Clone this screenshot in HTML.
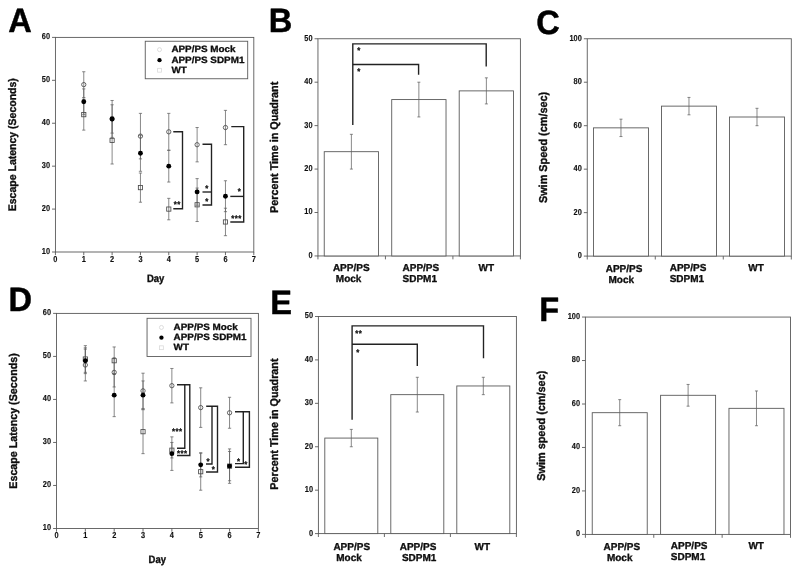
<!DOCTYPE html>
<html lang="en"><head><meta charset="utf-8"><title>Figure</title>
<style>html,body{margin:0;padding:0;background:#fff;overflow:hidden}svg{display:block}svg text{text-rendering:geometricPrecision;font-family:"Liberation Sans",Arial,Helvetica,sans-serif;font-weight:bold;fill:#0c0c0c;stroke:#0c0c0c;stroke-linejoin:round}svg{stroke-width:0.32}</style>
</head><body>
<svg width="800" height="574" viewBox="0 0 800 574">
<defs><filter id="soft" x="0" y="0" width="800" height="574" filterUnits="userSpaceOnUse"><feGaussianBlur stdDeviation="0.34"/></filter></defs>
<rect width="800" height="574" fill="#fff"/>
<g filter="url(#soft)">
<rect x="55.43" y="37.40" width="198.37" height="214.60" fill="none" stroke="#5a5a5a" stroke-width="0.9"/>
<line x1="52.03" y1="252.00" x2="55.43" y2="252.00" stroke="#5a5a5a" stroke-width="0.9"/>
<text transform="translate(50.03 253.90) scale(1 1.17)" font-size="7.4" text-anchor="end" stroke-width="0.1">10</text>
<line x1="52.03" y1="209.08" x2="55.43" y2="209.08" stroke="#5a5a5a" stroke-width="0.9"/>
<text transform="translate(50.03 210.98) scale(1 1.17)" font-size="7.4" text-anchor="end" stroke-width="0.1">20</text>
<line x1="52.03" y1="166.16" x2="55.43" y2="166.16" stroke="#5a5a5a" stroke-width="0.9"/>
<text transform="translate(50.03 168.06) scale(1 1.17)" font-size="7.4" text-anchor="end" stroke-width="0.1">30</text>
<line x1="52.03" y1="123.24" x2="55.43" y2="123.24" stroke="#5a5a5a" stroke-width="0.9"/>
<text transform="translate(50.03 125.14) scale(1 1.17)" font-size="7.4" text-anchor="end" stroke-width="0.1">40</text>
<line x1="52.03" y1="80.32" x2="55.43" y2="80.32" stroke="#5a5a5a" stroke-width="0.9"/>
<text transform="translate(50.03 82.22) scale(1 1.17)" font-size="7.4" text-anchor="end" stroke-width="0.1">50</text>
<line x1="52.03" y1="37.40" x2="55.43" y2="37.40" stroke="#5a5a5a" stroke-width="0.9"/>
<text transform="translate(50.03 39.30) scale(1 1.17)" font-size="7.4" text-anchor="end" stroke-width="0.1">60</text>
<line x1="55.43" y1="252.00" x2="55.43" y2="255.20" stroke="#5a5a5a" stroke-width="0.9"/>
<text transform="translate(55.43 261.70) scale(1 1.17)" font-size="7.4" text-anchor="middle" stroke-width="0.1">0</text>
<line x1="83.77" y1="252.00" x2="83.77" y2="255.20" stroke="#5a5a5a" stroke-width="0.9"/>
<text transform="translate(83.77 261.70) scale(1 1.17)" font-size="7.4" text-anchor="middle" stroke-width="0.1">1</text>
<line x1="112.11" y1="252.00" x2="112.11" y2="255.20" stroke="#5a5a5a" stroke-width="0.9"/>
<text transform="translate(112.11 261.70) scale(1 1.17)" font-size="7.4" text-anchor="middle" stroke-width="0.1">2</text>
<line x1="140.45" y1="252.00" x2="140.45" y2="255.20" stroke="#5a5a5a" stroke-width="0.9"/>
<text transform="translate(140.45 261.70) scale(1 1.17)" font-size="7.4" text-anchor="middle" stroke-width="0.1">3</text>
<line x1="168.78" y1="252.00" x2="168.78" y2="255.20" stroke="#5a5a5a" stroke-width="0.9"/>
<text transform="translate(168.78 261.70) scale(1 1.17)" font-size="7.4" text-anchor="middle" stroke-width="0.1">4</text>
<line x1="197.12" y1="252.00" x2="197.12" y2="255.20" stroke="#5a5a5a" stroke-width="0.9"/>
<text transform="translate(197.12 261.70) scale(1 1.17)" font-size="7.4" text-anchor="middle" stroke-width="0.1">5</text>
<line x1="225.46" y1="252.00" x2="225.46" y2="255.20" stroke="#5a5a5a" stroke-width="0.9"/>
<text transform="translate(225.46 261.70) scale(1 1.17)" font-size="7.4" text-anchor="middle" stroke-width="0.1">6</text>
<line x1="253.80" y1="252.00" x2="253.80" y2="255.20" stroke="#5a5a5a" stroke-width="0.9"/>
<text transform="translate(253.80 261.70) scale(1 1.17)" font-size="7.4" text-anchor="middle" stroke-width="0.1">7</text>
<text transform="translate(155.60 282.00) scale(1 1.13)" font-size="9.5" text-anchor="middle">Day</text>
<text transform="translate(16.30 144.70) rotate(-90) scale(1 1.05)" font-size="10.5" text-anchor="middle">Escape Latency (Seconds)</text>
<text transform="translate(8.20 31.60) scale(1 1.035)" font-size="32.6" text-anchor="start" style="fill:#000;stroke:#000;stroke-width:0.45px">A</text>
<rect x="145.25" y="41.25" width="102.45" height="37.50" fill="#fff" stroke="#5a5a5a" stroke-width="0.9"/>
<circle cx="159.50" cy="49.65" r="2.0" fill="#fff" stroke="#d4d4d4" stroke-width="0.8"/>
<circle cx="159.50" cy="60.15" r="2.15" fill="#000"/>
<rect x="157.60" y="68.35" width="3.8" height="3.8" fill="#fff" stroke="#dadada" stroke-width="0.8"/>
<text transform="translate(171.40 52.10) scale(1 0.93)" font-size="9.9" text-anchor="start">APP/PS Mock</text>
<text transform="translate(171.40 62.60) scale(1 0.93)" font-size="9.9" text-anchor="start">APP/PS SDPM1</text>
<text transform="translate(171.40 72.70) scale(1 0.93)" font-size="9.9" text-anchor="start">WT</text>
<line x1="83.77" y1="71.74" x2="83.77" y2="97.49" stroke="#606060" stroke-width="0.75"/>
<line x1="82.17" y1="71.74" x2="85.37" y2="71.74" stroke="#606060" stroke-width="0.75"/>
<line x1="82.17" y1="97.49" x2="85.37" y2="97.49" stroke="#606060" stroke-width="0.75"/>
<line x1="112.11" y1="100.49" x2="112.11" y2="137.40" stroke="#606060" stroke-width="0.75"/>
<line x1="110.51" y1="100.49" x2="113.71" y2="100.49" stroke="#606060" stroke-width="0.75"/>
<line x1="110.51" y1="137.40" x2="113.71" y2="137.40" stroke="#606060" stroke-width="0.75"/>
<line x1="140.45" y1="113.37" x2="140.45" y2="158.86" stroke="#606060" stroke-width="0.75"/>
<line x1="138.85" y1="113.37" x2="142.05" y2="113.37" stroke="#606060" stroke-width="0.75"/>
<line x1="138.85" y1="158.86" x2="142.05" y2="158.86" stroke="#606060" stroke-width="0.75"/>
<line x1="168.78" y1="113.37" x2="168.78" y2="150.28" stroke="#606060" stroke-width="0.75"/>
<line x1="167.18" y1="113.37" x2="170.38" y2="113.37" stroke="#606060" stroke-width="0.75"/>
<line x1="167.18" y1="150.28" x2="170.38" y2="150.28" stroke="#606060" stroke-width="0.75"/>
<line x1="197.12" y1="127.53" x2="197.12" y2="161.87" stroke="#606060" stroke-width="0.75"/>
<line x1="195.52" y1="127.53" x2="198.72" y2="127.53" stroke="#606060" stroke-width="0.75"/>
<line x1="195.52" y1="161.87" x2="198.72" y2="161.87" stroke="#606060" stroke-width="0.75"/>
<line x1="225.46" y1="110.36" x2="225.46" y2="144.70" stroke="#606060" stroke-width="0.75"/>
<line x1="223.86" y1="110.36" x2="227.06" y2="110.36" stroke="#606060" stroke-width="0.75"/>
<line x1="223.86" y1="144.70" x2="227.06" y2="144.70" stroke="#606060" stroke-width="0.75"/>
<line x1="83.77" y1="88.90" x2="83.77" y2="114.66" stroke="#606060" stroke-width="0.75"/>
<line x1="82.17" y1="88.90" x2="85.37" y2="88.90" stroke="#606060" stroke-width="0.75"/>
<line x1="82.17" y1="114.66" x2="85.37" y2="114.66" stroke="#606060" stroke-width="0.75"/>
<line x1="112.11" y1="104.78" x2="112.11" y2="133.11" stroke="#606060" stroke-width="0.75"/>
<line x1="110.51" y1="104.78" x2="113.71" y2="104.78" stroke="#606060" stroke-width="0.75"/>
<line x1="110.51" y1="133.11" x2="113.71" y2="133.11" stroke="#606060" stroke-width="0.75"/>
<line x1="140.45" y1="135.26" x2="140.45" y2="171.31" stroke="#606060" stroke-width="0.75"/>
<line x1="138.85" y1="135.26" x2="142.05" y2="135.26" stroke="#606060" stroke-width="0.75"/>
<line x1="138.85" y1="171.31" x2="142.05" y2="171.31" stroke="#606060" stroke-width="0.75"/>
<line x1="168.78" y1="150.28" x2="168.78" y2="182.04" stroke="#606060" stroke-width="0.75"/>
<line x1="167.18" y1="150.28" x2="170.38" y2="150.28" stroke="#606060" stroke-width="0.75"/>
<line x1="167.18" y1="182.04" x2="170.38" y2="182.04" stroke="#606060" stroke-width="0.75"/>
<line x1="197.12" y1="178.61" x2="197.12" y2="205.22" stroke="#606060" stroke-width="0.75"/>
<line x1="195.52" y1="178.61" x2="198.72" y2="178.61" stroke="#606060" stroke-width="0.75"/>
<line x1="195.52" y1="205.22" x2="198.72" y2="205.22" stroke="#606060" stroke-width="0.75"/>
<line x1="225.46" y1="180.75" x2="225.46" y2="211.66" stroke="#606060" stroke-width="0.75"/>
<line x1="223.86" y1="180.75" x2="227.06" y2="180.75" stroke="#606060" stroke-width="0.75"/>
<line x1="223.86" y1="211.66" x2="227.06" y2="211.66" stroke="#606060" stroke-width="0.75"/>
<line x1="83.77" y1="99.20" x2="83.77" y2="130.11" stroke="#606060" stroke-width="0.75"/>
<line x1="82.17" y1="99.20" x2="85.37" y2="99.20" stroke="#606060" stroke-width="0.75"/>
<line x1="82.17" y1="130.11" x2="85.37" y2="130.11" stroke="#606060" stroke-width="0.75"/>
<line x1="112.11" y1="116.80" x2="112.11" y2="164.01" stroke="#606060" stroke-width="0.75"/>
<line x1="110.51" y1="116.80" x2="113.71" y2="116.80" stroke="#606060" stroke-width="0.75"/>
<line x1="110.51" y1="164.01" x2="113.71" y2="164.01" stroke="#606060" stroke-width="0.75"/>
<line x1="140.45" y1="173.03" x2="140.45" y2="202.21" stroke="#606060" stroke-width="0.75"/>
<line x1="138.85" y1="173.03" x2="142.05" y2="173.03" stroke="#606060" stroke-width="0.75"/>
<line x1="138.85" y1="202.21" x2="142.05" y2="202.21" stroke="#606060" stroke-width="0.75"/>
<line x1="168.78" y1="198.35" x2="168.78" y2="219.81" stroke="#606060" stroke-width="0.75"/>
<line x1="167.18" y1="198.35" x2="170.38" y2="198.35" stroke="#606060" stroke-width="0.75"/>
<line x1="167.18" y1="219.81" x2="170.38" y2="219.81" stroke="#606060" stroke-width="0.75"/>
<line x1="197.12" y1="188.05" x2="197.12" y2="221.53" stroke="#606060" stroke-width="0.75"/>
<line x1="195.52" y1="188.05" x2="198.72" y2="188.05" stroke="#606060" stroke-width="0.75"/>
<line x1="195.52" y1="221.53" x2="198.72" y2="221.53" stroke="#606060" stroke-width="0.75"/>
<line x1="225.46" y1="208.22" x2="225.46" y2="235.69" stroke="#606060" stroke-width="0.75"/>
<line x1="223.86" y1="208.22" x2="227.06" y2="208.22" stroke="#606060" stroke-width="0.75"/>
<line x1="223.86" y1="235.69" x2="227.06" y2="235.69" stroke="#606060" stroke-width="0.75"/>
<rect x="81.67" y="112.56" width="4.2" height="4.2" fill="none" stroke="#4a4a4a" stroke-width="0.85"/>
<rect x="110.01" y="138.31" width="4.2" height="4.2" fill="none" stroke="#4a4a4a" stroke-width="0.85"/>
<rect x="138.35" y="185.52" width="4.2" height="4.2" fill="none" stroke="#4a4a4a" stroke-width="0.85"/>
<rect x="166.68" y="206.98" width="4.2" height="4.2" fill="none" stroke="#4a4a4a" stroke-width="0.85"/>
<rect x="195.02" y="202.69" width="4.2" height="4.2" fill="none" stroke="#4a4a4a" stroke-width="0.85"/>
<rect x="223.36" y="219.86" width="4.2" height="4.2" fill="none" stroke="#4a4a4a" stroke-width="0.85"/>
<circle cx="83.77" cy="84.61" r="2.15" fill="none" stroke="#4a4a4a" stroke-width="0.85"/>
<circle cx="112.11" cy="118.95" r="2.15" fill="none" stroke="#4a4a4a" stroke-width="0.85"/>
<circle cx="140.45" cy="136.12" r="2.15" fill="none" stroke="#4a4a4a" stroke-width="0.85"/>
<circle cx="168.78" cy="131.82" r="2.15" fill="none" stroke="#4a4a4a" stroke-width="0.85"/>
<circle cx="197.12" cy="144.70" r="2.15" fill="none" stroke="#4a4a4a" stroke-width="0.85"/>
<circle cx="225.46" cy="127.53" r="2.15" fill="none" stroke="#4a4a4a" stroke-width="0.85"/>
<circle cx="83.77" cy="101.78" r="2.45" fill="#000"/>
<circle cx="112.11" cy="118.95" r="2.45" fill="#000"/>
<circle cx="140.45" cy="153.28" r="2.45" fill="#000"/>
<circle cx="168.78" cy="166.16" r="2.45" fill="#000"/>
<circle cx="197.12" cy="191.91" r="2.45" fill="#000"/>
<circle cx="225.46" cy="196.20" r="2.45" fill="#000"/>
<polyline points="173.30,131.70 182.50,131.70 182.50,208.80 173.30,208.80" fill="none" stroke="#202020" stroke-width="1.38" stroke-linejoin="miter" stroke-linecap="butt"/>
<polyline points="202.50,144.20 211.50,144.20 211.50,205.00 202.50,205.00" fill="none" stroke="#202020" stroke-width="1.38" stroke-linejoin="miter" stroke-linecap="butt"/>
<polyline points="202.50,192.00 211.50,192.00" fill="none" stroke="#202020" stroke-width="1.38" stroke-linejoin="miter" stroke-linecap="butt"/>
<polyline points="231.30,126.60 243.70,126.60 243.70,222.00 230.30,222.00" fill="none" stroke="#202020" stroke-width="1.38" stroke-linejoin="miter" stroke-linecap="butt"/>
<polyline points="230.30,196.40 243.70,196.40" fill="none" stroke="#202020" stroke-width="1.38" stroke-linejoin="miter" stroke-linecap="butt"/>
<text transform="translate(177.25 207.45) scale(1 1.05)" font-size="7.8" text-anchor="middle" stroke-width="0.25" letter-spacing="0.5">**</text>
<text transform="translate(207.00 190.75) scale(1 1.05)" font-size="7.8" text-anchor="middle" stroke-width="0.25" letter-spacing="0.5">*</text>
<text transform="translate(207.00 204.45) scale(1 1.05)" font-size="7.8" text-anchor="middle" stroke-width="0.25" letter-spacing="0.5">*</text>
<text transform="translate(239.50 194.25) scale(1 1.05)" font-size="7.8" text-anchor="middle" stroke-width="0.25" letter-spacing="0.5">*</text>
<text transform="translate(236.55 220.55) scale(1 1.05)" font-size="7.8" text-anchor="middle" stroke-width="0.25" letter-spacing="0.5">***</text>
<rect x="317.95" y="38.75" width="202.45" height="217.20" fill="none" stroke="#5a5a5a" stroke-width="0.9"/>
<line x1="314.55" y1="255.95" x2="317.95" y2="255.95" stroke="#5a5a5a" stroke-width="0.9"/>
<text transform="translate(312.55 257.85) scale(1 1.17)" font-size="7.4" text-anchor="end" stroke-width="0.1">0</text>
<line x1="314.55" y1="212.51" x2="317.95" y2="212.51" stroke="#5a5a5a" stroke-width="0.9"/>
<text transform="translate(312.55 214.41) scale(1 1.17)" font-size="7.4" text-anchor="end" stroke-width="0.1">10</text>
<line x1="314.55" y1="169.07" x2="317.95" y2="169.07" stroke="#5a5a5a" stroke-width="0.9"/>
<text transform="translate(312.55 170.97) scale(1 1.17)" font-size="7.4" text-anchor="end" stroke-width="0.1">20</text>
<line x1="314.55" y1="125.63" x2="317.95" y2="125.63" stroke="#5a5a5a" stroke-width="0.9"/>
<text transform="translate(312.55 127.53) scale(1 1.17)" font-size="7.4" text-anchor="end" stroke-width="0.1">30</text>
<line x1="314.55" y1="82.19" x2="317.95" y2="82.19" stroke="#5a5a5a" stroke-width="0.9"/>
<text transform="translate(312.55 84.09) scale(1 1.17)" font-size="7.4" text-anchor="end" stroke-width="0.1">40</text>
<line x1="314.55" y1="38.75" x2="317.95" y2="38.75" stroke="#5a5a5a" stroke-width="0.9"/>
<text transform="translate(312.55 40.65) scale(1 1.17)" font-size="7.4" text-anchor="end" stroke-width="0.1">50</text>
<line x1="317.95" y1="255.95" x2="317.95" y2="259.35" stroke="#5a5a5a" stroke-width="0.9"/>
<line x1="385.43" y1="255.95" x2="385.43" y2="259.35" stroke="#5a5a5a" stroke-width="0.9"/>
<line x1="452.92" y1="255.95" x2="452.92" y2="259.35" stroke="#5a5a5a" stroke-width="0.9"/>
<line x1="520.40" y1="255.95" x2="520.40" y2="259.35" stroke="#5a5a5a" stroke-width="0.9"/>
<rect x="324.24" y="151.69" width="54.30" height="104.26" fill="#fff" stroke="#5a5a5a" stroke-width="0.9"/>
<line x1="351.39" y1="134.32" x2="351.39" y2="169.07" stroke="#606060" stroke-width="0.75"/>
<line x1="349.89" y1="134.32" x2="352.89" y2="134.32" stroke="#606060" stroke-width="0.75"/>
<line x1="349.89" y1="169.07" x2="352.89" y2="169.07" stroke="#606060" stroke-width="0.75"/>
<rect x="391.72" y="99.57" width="54.30" height="156.38" fill="#fff" stroke="#5a5a5a" stroke-width="0.9"/>
<line x1="418.87" y1="82.19" x2="418.87" y2="116.94" stroke="#606060" stroke-width="0.75"/>
<line x1="417.37" y1="82.19" x2="420.37" y2="82.19" stroke="#606060" stroke-width="0.75"/>
<line x1="417.37" y1="116.94" x2="420.37" y2="116.94" stroke="#606060" stroke-width="0.75"/>
<rect x="459.21" y="90.88" width="54.30" height="165.07" fill="#fff" stroke="#5a5a5a" stroke-width="0.9"/>
<line x1="486.36" y1="77.85" x2="486.36" y2="103.91" stroke="#606060" stroke-width="0.75"/>
<line x1="484.86" y1="77.85" x2="487.86" y2="77.85" stroke="#606060" stroke-width="0.75"/>
<line x1="484.86" y1="103.91" x2="487.86" y2="103.91" stroke="#606060" stroke-width="0.75"/>
<text transform="translate(277.50 147.35) rotate(-90) scale(1 1.05)" font-size="10.8" text-anchor="middle">Percent Time in Quadrant</text>
<text transform="translate(268.70 31.90) scale(1 1.035)" font-size="32.6" text-anchor="start" style="fill:#000;stroke:#000;stroke-width:0.45px">B</text>
<text transform="translate(332.90 270.60) scale(1 1.01)" font-size="10" text-anchor="start">APP/PS</text>
<text transform="translate(335.80 281.80) scale(1 1.01)" font-size="10" text-anchor="start">Mock</text>
<text transform="translate(402.50 270.60) scale(1 1.01)" font-size="10" text-anchor="start">APP/PS</text>
<text transform="translate(402.50 281.80) scale(1 1.01)" font-size="10" text-anchor="start">SDPM1</text>
<text transform="translate(478.50 270.60) scale(1 1.01)" font-size="10" text-anchor="start">WT</text>
<polyline points="352.80,125.00 352.80,43.90 486.20,43.90 486.20,66.50" fill="none" stroke="#202020" stroke-width="1.38" stroke-linejoin="miter" stroke-linecap="butt"/>
<polyline points="352.80,64.50 418.60,64.50 418.60,74.80" fill="none" stroke="#202020" stroke-width="1.38" stroke-linejoin="miter" stroke-linecap="butt"/>
<text transform="translate(359.00 53.15) scale(1 1.05)" font-size="7.8" text-anchor="middle" stroke-width="0.25" letter-spacing="0.5">*</text>
<text transform="translate(359.00 74.05) scale(1 1.05)" font-size="7.8" text-anchor="middle" stroke-width="0.25" letter-spacing="0.5">*</text>
<rect x="587.25" y="38.75" width="204.05" height="217.35" fill="none" stroke="#5a5a5a" stroke-width="0.9"/>
<line x1="583.85" y1="256.10" x2="587.25" y2="256.10" stroke="#5a5a5a" stroke-width="0.9"/>
<text transform="translate(581.85 258.00) scale(1 1.17)" font-size="7.4" text-anchor="end" stroke-width="0.1">0</text>
<line x1="583.85" y1="212.63" x2="587.25" y2="212.63" stroke="#5a5a5a" stroke-width="0.9"/>
<text transform="translate(581.85 214.53) scale(1 1.17)" font-size="7.4" text-anchor="end" stroke-width="0.1">20</text>
<line x1="583.85" y1="169.16" x2="587.25" y2="169.16" stroke="#5a5a5a" stroke-width="0.9"/>
<text transform="translate(581.85 171.06) scale(1 1.17)" font-size="7.4" text-anchor="end" stroke-width="0.1">40</text>
<line x1="583.85" y1="125.69" x2="587.25" y2="125.69" stroke="#5a5a5a" stroke-width="0.9"/>
<text transform="translate(581.85 127.59) scale(1 1.17)" font-size="7.4" text-anchor="end" stroke-width="0.1">60</text>
<line x1="583.85" y1="82.22" x2="587.25" y2="82.22" stroke="#5a5a5a" stroke-width="0.9"/>
<text transform="translate(581.85 84.12) scale(1 1.17)" font-size="7.4" text-anchor="end" stroke-width="0.1">80</text>
<line x1="583.85" y1="38.75" x2="587.25" y2="38.75" stroke="#5a5a5a" stroke-width="0.9"/>
<text transform="translate(581.85 40.65) scale(1 1.17)" font-size="7.4" text-anchor="end" stroke-width="0.1">100</text>
<line x1="587.25" y1="256.10" x2="587.25" y2="259.50" stroke="#5a5a5a" stroke-width="0.9"/>
<line x1="655.27" y1="256.10" x2="655.27" y2="259.50" stroke="#5a5a5a" stroke-width="0.9"/>
<line x1="723.28" y1="256.10" x2="723.28" y2="259.50" stroke="#5a5a5a" stroke-width="0.9"/>
<line x1="791.30" y1="256.10" x2="791.30" y2="259.50" stroke="#5a5a5a" stroke-width="0.9"/>
<rect x="593.46" y="127.86" width="55.00" height="128.24" fill="#fff" stroke="#5a5a5a" stroke-width="0.9"/>
<line x1="620.96" y1="119.17" x2="620.96" y2="136.56" stroke="#606060" stroke-width="0.75"/>
<line x1="619.46" y1="119.17" x2="622.46" y2="119.17" stroke="#606060" stroke-width="0.75"/>
<line x1="619.46" y1="136.56" x2="622.46" y2="136.56" stroke="#606060" stroke-width="0.75"/>
<rect x="661.48" y="106.13" width="55.00" height="149.97" fill="#fff" stroke="#5a5a5a" stroke-width="0.9"/>
<line x1="688.98" y1="97.43" x2="688.98" y2="114.82" stroke="#606060" stroke-width="0.75"/>
<line x1="687.48" y1="97.43" x2="690.48" y2="97.43" stroke="#606060" stroke-width="0.75"/>
<line x1="687.48" y1="114.82" x2="690.48" y2="114.82" stroke="#606060" stroke-width="0.75"/>
<rect x="729.49" y="117.00" width="55.00" height="139.10" fill="#fff" stroke="#5a5a5a" stroke-width="0.9"/>
<line x1="756.99" y1="108.30" x2="756.99" y2="125.69" stroke="#606060" stroke-width="0.75"/>
<line x1="755.49" y1="108.30" x2="758.49" y2="108.30" stroke="#606060" stroke-width="0.75"/>
<line x1="755.49" y1="125.69" x2="758.49" y2="125.69" stroke="#606060" stroke-width="0.75"/>
<text transform="translate(546.70 147.43) rotate(-90) scale(1 1.05)" font-size="10.9" text-anchor="middle">Swim Speed (cm/sec)</text>
<text transform="translate(536.20 34.40) scale(1 1.035)" font-size="32.6" text-anchor="start" style="fill:#000;stroke:#000;stroke-width:0.45px">C</text>
<text transform="translate(605.70 271.50) scale(1 1.01)" font-size="10" text-anchor="start">APP/PS</text>
<text transform="translate(608.50 282.80) scale(1 1.01)" font-size="10" text-anchor="start">Mock</text>
<text transform="translate(669.70 270.60) scale(1 1.01)" font-size="10" text-anchor="start">APP/PS</text>
<text transform="translate(669.70 281.80) scale(1 1.01)" font-size="10" text-anchor="start">SDPM1</text>
<text transform="translate(748.30 270.70) scale(1 1.01)" font-size="10" text-anchor="start">WT</text>
<rect x="56.50" y="313.40" width="201.90" height="215.10" fill="none" stroke="#5a5a5a" stroke-width="0.9"/>
<line x1="53.10" y1="528.50" x2="56.50" y2="528.50" stroke="#5a5a5a" stroke-width="0.9"/>
<text transform="translate(51.10 530.40) scale(1 1.17)" font-size="7.4" text-anchor="end" stroke-width="0.1">10</text>
<line x1="53.10" y1="485.48" x2="56.50" y2="485.48" stroke="#5a5a5a" stroke-width="0.9"/>
<text transform="translate(51.10 487.38) scale(1 1.17)" font-size="7.4" text-anchor="end" stroke-width="0.1">20</text>
<line x1="53.10" y1="442.46" x2="56.50" y2="442.46" stroke="#5a5a5a" stroke-width="0.9"/>
<text transform="translate(51.10 444.36) scale(1 1.17)" font-size="7.4" text-anchor="end" stroke-width="0.1">30</text>
<line x1="53.10" y1="399.44" x2="56.50" y2="399.44" stroke="#5a5a5a" stroke-width="0.9"/>
<text transform="translate(51.10 401.34) scale(1 1.17)" font-size="7.4" text-anchor="end" stroke-width="0.1">40</text>
<line x1="53.10" y1="356.42" x2="56.50" y2="356.42" stroke="#5a5a5a" stroke-width="0.9"/>
<text transform="translate(51.10 358.32) scale(1 1.17)" font-size="7.4" text-anchor="end" stroke-width="0.1">50</text>
<line x1="53.10" y1="313.40" x2="56.50" y2="313.40" stroke="#5a5a5a" stroke-width="0.9"/>
<text transform="translate(51.10 315.30) scale(1 1.17)" font-size="7.4" text-anchor="end" stroke-width="0.1">60</text>
<line x1="56.50" y1="528.50" x2="56.50" y2="531.70" stroke="#5a5a5a" stroke-width="0.9"/>
<text transform="translate(56.50 538.20) scale(1 1.17)" font-size="7.4" text-anchor="middle" stroke-width="0.1">0</text>
<line x1="85.34" y1="528.50" x2="85.34" y2="531.70" stroke="#5a5a5a" stroke-width="0.9"/>
<text transform="translate(85.34 538.20) scale(1 1.17)" font-size="7.4" text-anchor="middle" stroke-width="0.1">1</text>
<line x1="114.19" y1="528.50" x2="114.19" y2="531.70" stroke="#5a5a5a" stroke-width="0.9"/>
<text transform="translate(114.19 538.20) scale(1 1.17)" font-size="7.4" text-anchor="middle" stroke-width="0.1">2</text>
<line x1="143.03" y1="528.50" x2="143.03" y2="531.70" stroke="#5a5a5a" stroke-width="0.9"/>
<text transform="translate(143.03 538.20) scale(1 1.17)" font-size="7.4" text-anchor="middle" stroke-width="0.1">3</text>
<line x1="171.87" y1="528.50" x2="171.87" y2="531.70" stroke="#5a5a5a" stroke-width="0.9"/>
<text transform="translate(171.87 538.20) scale(1 1.17)" font-size="7.4" text-anchor="middle" stroke-width="0.1">4</text>
<line x1="200.71" y1="528.50" x2="200.71" y2="531.70" stroke="#5a5a5a" stroke-width="0.9"/>
<text transform="translate(200.71 538.20) scale(1 1.17)" font-size="7.4" text-anchor="middle" stroke-width="0.1">5</text>
<line x1="229.56" y1="528.50" x2="229.56" y2="531.70" stroke="#5a5a5a" stroke-width="0.9"/>
<text transform="translate(229.56 538.20) scale(1 1.17)" font-size="7.4" text-anchor="middle" stroke-width="0.1">6</text>
<line x1="258.40" y1="528.50" x2="258.40" y2="531.70" stroke="#5a5a5a" stroke-width="0.9"/>
<text transform="translate(258.40 538.20) scale(1 1.17)" font-size="7.4" text-anchor="middle" stroke-width="0.1">7</text>
<text transform="translate(157.30 562.80) scale(1 1.13)" font-size="9.5" text-anchor="middle">Day</text>
<text transform="translate(16.60 420.95) rotate(-90) scale(1 1.05)" font-size="10.7" text-anchor="middle">Escape Latency (Seconds)</text>
<text transform="translate(8.60 311.00) scale(1 1.035)" font-size="32.6" text-anchor="start" style="fill:#000;stroke:#000;stroke-width:0.45px">D</text>
<rect x="147.05" y="318.30" width="103.95" height="38.25" fill="#fff" stroke="#5a5a5a" stroke-width="0.9"/>
<circle cx="161.45" cy="327.45" r="2.0" fill="#fff" stroke="#d4d4d4" stroke-width="0.8"/>
<circle cx="161.45" cy="337.65" r="2.15" fill="#000"/>
<rect x="159.55" y="345.85" width="3.8" height="3.8" fill="#fff" stroke="#dadada" stroke-width="0.8"/>
<text transform="translate(173.60 329.90) scale(1 0.93)" font-size="9.9" text-anchor="start">APP/PS Mock</text>
<text transform="translate(173.60 340.10) scale(1 0.93)" font-size="9.9" text-anchor="start">APP/PS SDPM1</text>
<text transform="translate(173.60 350.20) scale(1 0.93)" font-size="9.9" text-anchor="start">WT</text>
<line x1="85.34" y1="349.11" x2="85.34" y2="380.94" stroke="#606060" stroke-width="0.75"/>
<line x1="83.74" y1="349.11" x2="86.94" y2="349.11" stroke="#606060" stroke-width="0.75"/>
<line x1="83.74" y1="380.94" x2="86.94" y2="380.94" stroke="#606060" stroke-width="0.75"/>
<line x1="114.19" y1="357.71" x2="114.19" y2="386.96" stroke="#606060" stroke-width="0.75"/>
<line x1="112.59" y1="357.71" x2="115.79" y2="357.71" stroke="#606060" stroke-width="0.75"/>
<line x1="112.59" y1="386.96" x2="115.79" y2="386.96" stroke="#606060" stroke-width="0.75"/>
<line x1="143.03" y1="373.20" x2="143.03" y2="408.47" stroke="#606060" stroke-width="0.75"/>
<line x1="141.43" y1="373.20" x2="144.63" y2="373.20" stroke="#606060" stroke-width="0.75"/>
<line x1="141.43" y1="408.47" x2="144.63" y2="408.47" stroke="#606060" stroke-width="0.75"/>
<line x1="171.87" y1="368.47" x2="171.87" y2="402.88" stroke="#606060" stroke-width="0.75"/>
<line x1="170.27" y1="368.47" x2="173.47" y2="368.47" stroke="#606060" stroke-width="0.75"/>
<line x1="170.27" y1="402.88" x2="173.47" y2="402.88" stroke="#606060" stroke-width="0.75"/>
<line x1="200.71" y1="387.82" x2="200.71" y2="427.40" stroke="#606060" stroke-width="0.75"/>
<line x1="199.11" y1="387.82" x2="202.31" y2="387.82" stroke="#606060" stroke-width="0.75"/>
<line x1="199.11" y1="427.40" x2="202.31" y2="427.40" stroke="#606060" stroke-width="0.75"/>
<line x1="229.56" y1="397.29" x2="229.56" y2="428.26" stroke="#606060" stroke-width="0.75"/>
<line x1="227.96" y1="397.29" x2="231.16" y2="397.29" stroke="#606060" stroke-width="0.75"/>
<line x1="227.96" y1="428.26" x2="231.16" y2="428.26" stroke="#606060" stroke-width="0.75"/>
<line x1="85.34" y1="347.82" x2="85.34" y2="373.63" stroke="#606060" stroke-width="0.75"/>
<line x1="83.74" y1="347.82" x2="86.94" y2="347.82" stroke="#606060" stroke-width="0.75"/>
<line x1="83.74" y1="373.63" x2="86.94" y2="373.63" stroke="#606060" stroke-width="0.75"/>
<line x1="114.19" y1="373.63" x2="114.19" y2="416.65" stroke="#606060" stroke-width="0.75"/>
<line x1="112.59" y1="373.63" x2="115.79" y2="373.63" stroke="#606060" stroke-width="0.75"/>
<line x1="112.59" y1="416.65" x2="115.79" y2="416.65" stroke="#606060" stroke-width="0.75"/>
<line x1="143.03" y1="380.94" x2="143.03" y2="409.33" stroke="#606060" stroke-width="0.75"/>
<line x1="141.43" y1="380.94" x2="144.63" y2="380.94" stroke="#606060" stroke-width="0.75"/>
<line x1="141.43" y1="409.33" x2="144.63" y2="409.33" stroke="#606060" stroke-width="0.75"/>
<line x1="171.87" y1="436.87" x2="171.87" y2="470.42" stroke="#606060" stroke-width="0.75"/>
<line x1="170.27" y1="436.87" x2="173.47" y2="436.87" stroke="#606060" stroke-width="0.75"/>
<line x1="170.27" y1="470.42" x2="173.47" y2="470.42" stroke="#606060" stroke-width="0.75"/>
<line x1="200.71" y1="452.78" x2="200.71" y2="476.88" stroke="#606060" stroke-width="0.75"/>
<line x1="199.11" y1="452.78" x2="202.31" y2="452.78" stroke="#606060" stroke-width="0.75"/>
<line x1="199.11" y1="476.88" x2="202.31" y2="476.88" stroke="#606060" stroke-width="0.75"/>
<line x1="229.56" y1="448.91" x2="229.56" y2="483.33" stroke="#606060" stroke-width="0.75"/>
<line x1="227.96" y1="448.91" x2="231.16" y2="448.91" stroke="#606060" stroke-width="0.75"/>
<line x1="227.96" y1="483.33" x2="231.16" y2="483.33" stroke="#606060" stroke-width="0.75"/>
<line x1="85.34" y1="345.66" x2="85.34" y2="372.34" stroke="#606060" stroke-width="0.75"/>
<line x1="83.74" y1="345.66" x2="86.94" y2="345.66" stroke="#606060" stroke-width="0.75"/>
<line x1="83.74" y1="372.34" x2="86.94" y2="372.34" stroke="#606060" stroke-width="0.75"/>
<line x1="114.19" y1="346.96" x2="114.19" y2="374.49" stroke="#606060" stroke-width="0.75"/>
<line x1="112.59" y1="346.96" x2="115.79" y2="346.96" stroke="#606060" stroke-width="0.75"/>
<line x1="112.59" y1="374.49" x2="115.79" y2="374.49" stroke="#606060" stroke-width="0.75"/>
<line x1="143.03" y1="409.76" x2="143.03" y2="453.65" stroke="#606060" stroke-width="0.75"/>
<line x1="141.43" y1="409.76" x2="144.63" y2="409.76" stroke="#606060" stroke-width="0.75"/>
<line x1="141.43" y1="453.65" x2="144.63" y2="453.65" stroke="#606060" stroke-width="0.75"/>
<line x1="171.87" y1="442.46" x2="171.87" y2="457.95" stroke="#606060" stroke-width="0.75"/>
<line x1="170.27" y1="442.46" x2="173.47" y2="442.46" stroke="#606060" stroke-width="0.75"/>
<line x1="170.27" y1="457.95" x2="173.47" y2="457.95" stroke="#606060" stroke-width="0.75"/>
<line x1="200.71" y1="453.21" x2="200.71" y2="490.21" stroke="#606060" stroke-width="0.75"/>
<line x1="199.11" y1="453.21" x2="202.31" y2="453.21" stroke="#606060" stroke-width="0.75"/>
<line x1="199.11" y1="490.21" x2="202.31" y2="490.21" stroke="#606060" stroke-width="0.75"/>
<line x1="229.56" y1="451.49" x2="229.56" y2="480.75" stroke="#606060" stroke-width="0.75"/>
<line x1="227.96" y1="451.49" x2="231.16" y2="451.49" stroke="#606060" stroke-width="0.75"/>
<line x1="227.96" y1="480.75" x2="231.16" y2="480.75" stroke="#606060" stroke-width="0.75"/>
<rect x="83.24" y="356.90" width="4.2" height="4.2" fill="none" stroke="#4a4a4a" stroke-width="0.85"/>
<rect x="112.09" y="358.62" width="4.2" height="4.2" fill="none" stroke="#4a4a4a" stroke-width="0.85"/>
<rect x="140.93" y="429.60" width="4.2" height="4.2" fill="none" stroke="#4a4a4a" stroke-width="0.85"/>
<rect x="169.77" y="448.10" width="4.2" height="4.2" fill="none" stroke="#4a4a4a" stroke-width="0.85"/>
<rect x="198.61" y="469.61" width="4.2" height="4.2" fill="none" stroke="#4a4a4a" stroke-width="0.85"/>
<rect x="227.46" y="464.02" width="4.2" height="4.2" fill="none" stroke="#4a4a4a" stroke-width="0.85"/>
<circle cx="85.34" cy="365.02" r="2.15" fill="none" stroke="#4a4a4a" stroke-width="0.85"/>
<circle cx="114.19" cy="372.34" r="2.15" fill="none" stroke="#4a4a4a" stroke-width="0.85"/>
<circle cx="143.03" cy="390.84" r="2.15" fill="none" stroke="#4a4a4a" stroke-width="0.85"/>
<circle cx="171.87" cy="385.67" r="2.15" fill="none" stroke="#4a4a4a" stroke-width="0.85"/>
<circle cx="200.71" cy="407.61" r="2.15" fill="none" stroke="#4a4a4a" stroke-width="0.85"/>
<circle cx="229.56" cy="412.78" r="2.15" fill="none" stroke="#4a4a4a" stroke-width="0.85"/>
<circle cx="85.34" cy="360.72" r="2.45" fill="#000"/>
<circle cx="114.19" cy="395.14" r="2.45" fill="#000"/>
<circle cx="143.03" cy="395.14" r="2.45" fill="#000"/>
<circle cx="171.87" cy="453.65" r="2.45" fill="#000"/>
<circle cx="200.71" cy="464.83" r="2.45" fill="#000"/>
<circle cx="229.56" cy="466.12" r="2.45" fill="#000"/>
<polyline points="177.00,384.80 189.80,384.80 189.80,455.50 177.00,455.50" fill="none" stroke="#202020" stroke-width="1.38" stroke-linejoin="miter" stroke-linecap="butt"/>
<polyline points="184.80,384.80 184.80,448.20 177.00,448.20" fill="none" stroke="#202020" stroke-width="1.38" stroke-linejoin="miter" stroke-linecap="butt"/>
<polyline points="206.20,406.30 217.50,406.30 217.50,472.00 206.00,472.00" fill="none" stroke="#202020" stroke-width="1.38" stroke-linejoin="miter" stroke-linecap="butt"/>
<polyline points="212.00,406.30 212.00,464.00 206.00,464.00" fill="none" stroke="#202020" stroke-width="1.38" stroke-linejoin="miter" stroke-linecap="butt"/>
<polyline points="235.00,411.80 249.40,411.80 249.40,467.20 235.00,467.20" fill="none" stroke="#202020" stroke-width="1.38" stroke-linejoin="miter" stroke-linecap="butt"/>
<polyline points="243.30,411.80 243.30,463.60 235.00,463.60" fill="none" stroke="#202020" stroke-width="1.38" stroke-linejoin="miter" stroke-linecap="butt"/>
<text transform="translate(177.25 433.75) scale(1 1.05)" font-size="7.8" text-anchor="middle" stroke-width="0.25" letter-spacing="0.5">***</text>
<text transform="translate(182.25 455.75) scale(1 1.05)" font-size="7.8" text-anchor="middle" stroke-width="0.25" letter-spacing="0.5">***</text>
<text transform="translate(208.20 463.55) scale(1 1.05)" font-size="7.8" text-anchor="middle" stroke-width="0.25" letter-spacing="0.5">*</text>
<text transform="translate(213.50 472.05) scale(1 1.05)" font-size="7.8" text-anchor="middle" stroke-width="0.25" letter-spacing="0.5">*</text>
<text transform="translate(238.80 463.75) scale(1 1.05)" font-size="7.8" text-anchor="middle" stroke-width="0.25" letter-spacing="0.5">*</text>
<text transform="translate(246.00 467.25) scale(1 1.05)" font-size="7.8" text-anchor="middle" stroke-width="0.25" letter-spacing="0.5">*</text>
<rect x="318.40" y="316.50" width="198.00" height="217.10" fill="none" stroke="#5a5a5a" stroke-width="0.9"/>
<line x1="315.00" y1="533.60" x2="318.40" y2="533.60" stroke="#5a5a5a" stroke-width="0.9"/>
<text transform="translate(313.00 535.50) scale(1 1.17)" font-size="7.4" text-anchor="end" stroke-width="0.1">0</text>
<line x1="315.00" y1="490.18" x2="318.40" y2="490.18" stroke="#5a5a5a" stroke-width="0.9"/>
<text transform="translate(313.00 492.08) scale(1 1.17)" font-size="7.4" text-anchor="end" stroke-width="0.1">10</text>
<line x1="315.00" y1="446.76" x2="318.40" y2="446.76" stroke="#5a5a5a" stroke-width="0.9"/>
<text transform="translate(313.00 448.66) scale(1 1.17)" font-size="7.4" text-anchor="end" stroke-width="0.1">20</text>
<line x1="315.00" y1="403.34" x2="318.40" y2="403.34" stroke="#5a5a5a" stroke-width="0.9"/>
<text transform="translate(313.00 405.24) scale(1 1.17)" font-size="7.4" text-anchor="end" stroke-width="0.1">30</text>
<line x1="315.00" y1="359.92" x2="318.40" y2="359.92" stroke="#5a5a5a" stroke-width="0.9"/>
<text transform="translate(313.00 361.82) scale(1 1.17)" font-size="7.4" text-anchor="end" stroke-width="0.1">40</text>
<line x1="315.00" y1="316.50" x2="318.40" y2="316.50" stroke="#5a5a5a" stroke-width="0.9"/>
<text transform="translate(313.00 318.40) scale(1 1.17)" font-size="7.4" text-anchor="end" stroke-width="0.1">50</text>
<line x1="318.40" y1="533.60" x2="318.40" y2="537.00" stroke="#5a5a5a" stroke-width="0.9"/>
<line x1="384.40" y1="533.60" x2="384.40" y2="537.00" stroke="#5a5a5a" stroke-width="0.9"/>
<line x1="450.40" y1="533.60" x2="450.40" y2="537.00" stroke="#5a5a5a" stroke-width="0.9"/>
<line x1="516.40" y1="533.60" x2="516.40" y2="537.00" stroke="#5a5a5a" stroke-width="0.9"/>
<rect x="324.80" y="438.08" width="53.00" height="95.52" fill="#fff" stroke="#5a5a5a" stroke-width="0.9"/>
<line x1="351.30" y1="429.39" x2="351.30" y2="446.76" stroke="#606060" stroke-width="0.75"/>
<line x1="349.80" y1="429.39" x2="352.80" y2="429.39" stroke="#606060" stroke-width="0.75"/>
<line x1="349.80" y1="446.76" x2="352.80" y2="446.76" stroke="#606060" stroke-width="0.75"/>
<rect x="390.80" y="394.66" width="53.00" height="138.94" fill="#fff" stroke="#5a5a5a" stroke-width="0.9"/>
<line x1="417.30" y1="377.29" x2="417.30" y2="412.02" stroke="#606060" stroke-width="0.75"/>
<line x1="415.80" y1="377.29" x2="418.80" y2="377.29" stroke="#606060" stroke-width="0.75"/>
<line x1="415.80" y1="412.02" x2="418.80" y2="412.02" stroke="#606060" stroke-width="0.75"/>
<rect x="456.80" y="385.97" width="53.00" height="147.63" fill="#fff" stroke="#5a5a5a" stroke-width="0.9"/>
<line x1="483.30" y1="377.29" x2="483.30" y2="394.66" stroke="#606060" stroke-width="0.75"/>
<line x1="481.80" y1="377.29" x2="484.80" y2="377.29" stroke="#606060" stroke-width="0.75"/>
<line x1="481.80" y1="394.66" x2="484.80" y2="394.66" stroke="#606060" stroke-width="0.75"/>
<text transform="translate(277.50 424.05) rotate(-90) scale(1 1.05)" font-size="10.8" text-anchor="middle">Percent Time in Quadrant</text>
<text transform="translate(270.30 314.00) scale(1 1.035)" font-size="32.6" text-anchor="start" style="fill:#000;stroke:#000;stroke-width:0.45px">E</text>
<text transform="translate(333.40 549.50) scale(1 1.01)" font-size="10" text-anchor="start">APP/PS</text>
<text transform="translate(336.20 560.80) scale(1 1.01)" font-size="10" text-anchor="start">Mock</text>
<text transform="translate(399.70 549.50) scale(1 1.01)" font-size="10" text-anchor="start">APP/PS</text>
<text transform="translate(401.90 560.80) scale(1 1.01)" font-size="10" text-anchor="start">SDPM1</text>
<text transform="translate(474.60 549.50) scale(1 1.01)" font-size="10" text-anchor="start">WT</text>
<polyline points="352.10,419.80 352.10,325.90 483.50,325.90 483.50,358.30" fill="none" stroke="#202020" stroke-width="1.38" stroke-linejoin="miter" stroke-linecap="butt"/>
<polyline points="352.10,344.20 417.30,344.20 417.30,366.10" fill="none" stroke="#202020" stroke-width="1.38" stroke-linejoin="miter" stroke-linecap="butt"/>
<text transform="translate(358.85 335.95) scale(1 1.05)" font-size="7.8" text-anchor="middle" stroke-width="0.25" letter-spacing="0.5">**</text>
<text transform="translate(357.90 354.75) scale(1 1.05)" font-size="7.8" text-anchor="middle" stroke-width="0.25" letter-spacing="0.5">*</text>
<rect x="585.40" y="317.06" width="205.10" height="217.34" fill="none" stroke="#5a5a5a" stroke-width="0.9"/>
<line x1="582.00" y1="534.40" x2="585.40" y2="534.40" stroke="#5a5a5a" stroke-width="0.9"/>
<text transform="translate(580.00 536.30) scale(1 1.17)" font-size="7.4" text-anchor="end" stroke-width="0.1">0</text>
<line x1="582.00" y1="490.93" x2="585.40" y2="490.93" stroke="#5a5a5a" stroke-width="0.9"/>
<text transform="translate(580.00 492.83) scale(1 1.17)" font-size="7.4" text-anchor="end" stroke-width="0.1">20</text>
<line x1="582.00" y1="447.46" x2="585.40" y2="447.46" stroke="#5a5a5a" stroke-width="0.9"/>
<text transform="translate(580.00 449.36) scale(1 1.17)" font-size="7.4" text-anchor="end" stroke-width="0.1">40</text>
<line x1="582.00" y1="404.00" x2="585.40" y2="404.00" stroke="#5a5a5a" stroke-width="0.9"/>
<text transform="translate(580.00 405.90) scale(1 1.17)" font-size="7.4" text-anchor="end" stroke-width="0.1">60</text>
<line x1="582.00" y1="360.53" x2="585.40" y2="360.53" stroke="#5a5a5a" stroke-width="0.9"/>
<text transform="translate(580.00 362.43) scale(1 1.17)" font-size="7.4" text-anchor="end" stroke-width="0.1">80</text>
<line x1="582.00" y1="317.06" x2="585.40" y2="317.06" stroke="#5a5a5a" stroke-width="0.9"/>
<text transform="translate(580.00 318.96) scale(1 1.17)" font-size="7.4" text-anchor="end" stroke-width="0.1">100</text>
<line x1="585.40" y1="534.40" x2="585.40" y2="537.80" stroke="#5a5a5a" stroke-width="0.9"/>
<line x1="653.77" y1="534.40" x2="653.77" y2="537.80" stroke="#5a5a5a" stroke-width="0.9"/>
<line x1="722.13" y1="534.40" x2="722.13" y2="537.80" stroke="#5a5a5a" stroke-width="0.9"/>
<line x1="790.50" y1="534.40" x2="790.50" y2="537.80" stroke="#5a5a5a" stroke-width="0.9"/>
<rect x="592.23" y="412.69" width="55.00" height="121.71" fill="#fff" stroke="#5a5a5a" stroke-width="0.9"/>
<line x1="619.73" y1="399.65" x2="619.73" y2="425.73" stroke="#606060" stroke-width="0.75"/>
<line x1="618.23" y1="399.65" x2="621.23" y2="399.65" stroke="#606060" stroke-width="0.75"/>
<line x1="618.23" y1="425.73" x2="621.23" y2="425.73" stroke="#606060" stroke-width="0.75"/>
<rect x="660.60" y="395.30" width="55.00" height="139.10" fill="#fff" stroke="#5a5a5a" stroke-width="0.9"/>
<line x1="688.10" y1="384.44" x2="688.10" y2="406.17" stroke="#606060" stroke-width="0.75"/>
<line x1="686.60" y1="384.44" x2="689.60" y2="384.44" stroke="#606060" stroke-width="0.75"/>
<line x1="686.60" y1="406.17" x2="689.60" y2="406.17" stroke="#606060" stroke-width="0.75"/>
<rect x="728.97" y="408.34" width="55.00" height="126.06" fill="#fff" stroke="#5a5a5a" stroke-width="0.9"/>
<line x1="756.47" y1="390.96" x2="756.47" y2="425.73" stroke="#606060" stroke-width="0.75"/>
<line x1="754.97" y1="390.96" x2="757.97" y2="390.96" stroke="#606060" stroke-width="0.75"/>
<line x1="754.97" y1="425.73" x2="757.97" y2="425.73" stroke="#606060" stroke-width="0.75"/>
<text transform="translate(545.20 425.73) rotate(-90) scale(1 1.05)" font-size="10.9" text-anchor="middle">Swim speed (cm/sec)</text>
<text transform="translate(539.25 321.00) scale(1 1.035)" font-size="32.6" text-anchor="start" style="fill:#000;stroke:#000;stroke-width:0.45px">F</text>
<text transform="translate(603.50 549.50) scale(1 1.01)" font-size="10" text-anchor="start">APP/PS</text>
<text transform="translate(606.90 560.80) scale(1 1.01)" font-size="10" text-anchor="start">Mock</text>
<text transform="translate(670.80 548.60) scale(1 1.01)" font-size="10" text-anchor="start">APP/PS</text>
<text transform="translate(670.80 559.80) scale(1 1.01)" font-size="10" text-anchor="start">SDPM1</text>
<text transform="translate(748.40 548.70) scale(1 1.01)" font-size="10" text-anchor="start">WT</text>
</g>
</svg></body></html>
